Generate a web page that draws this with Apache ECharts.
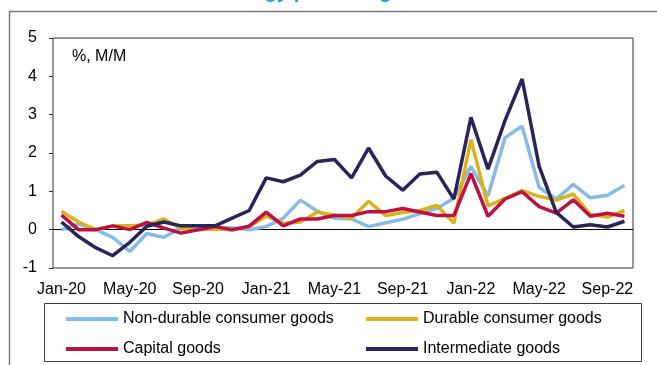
<!DOCTYPE html>
<html>
<head>
<meta charset="utf-8">
<script src="https://cdn.jsdelivr.net/npm/echarts@6/dist/echarts.min.js"></script>
<style>
html,body{margin:0;padding:0;background:#fff;}
#c{width:657px;height:365px;}
</style>
</head>
<body>
<div id="c"></div>
<script>
var months = ['Jan-20','Feb-20','Mar-20','Apr-20','May-20','Jun-20','Jul-20','Aug-20','Sep-20','Oct-20','Nov-20','Dec-20',
  'Jan-21','Feb-21','Mar-21','Apr-21','May-21','Jun-21','Jul-21','Aug-21','Sep-21','Oct-21','Nov-21','Dec-21',
  'Jan-22','Feb-22','Mar-22','Apr-22','May-22','Jun-22','Jul-22','Aug-22','Sep-22','Oct-22'];
var nonDurable = [0.0, 0.15, 0.0, -0.2, -0.57, -0.1, -0.2, 0.05, 0.05, 0.05, 0.05, 0.0, 0.08, 0.3, 0.77, 0.48, 0.3, 0.28, 0.08, 0.18, 0.27, 0.42, 0.55, 0.82, 1.65, 0.88, 2.4, 2.7, 1.1, 0.8, 1.18, 0.83, 0.9, 1.15];
var durable = [0.48, 0.2, 0.0, 0.1, 0.1, 0.12, 0.28, 0.03, 0.0, 0.02, 0.0, 0.08, 0.35, 0.17, 0.2, 0.46, 0.38, 0.3, 0.74, 0.37, 0.45, 0.5, 0.63, 0.17, 2.35, 0.62, 0.82, 1.02, 0.87, 0.77, 0.93, 0.4, 0.33, 0.5];
var capital = [0.38, 0.0, 0.0, 0.1, 0.0, 0.19, 0.04, -0.09, 0.0, 0.08, 0.0, 0.09, 0.46, 0.1, 0.28, 0.28, 0.37, 0.37, 0.47, 0.47, 0.55, 0.46, 0.37, 0.37, 1.46, 0.35, 0.8, 0.99, 0.6, 0.43, 0.78, 0.35, 0.43, 0.35];
var intermediate = [0.2, -0.18, -0.47, -0.68, -0.33, 0.09, 0.2, 0.1, 0.1, 0.1, 0.3, 0.5, 1.35, 1.25, 1.42, 1.78, 1.83, 1.35, 2.13, 1.4, 1.03, 1.45, 1.5, 0.8, 2.93, 1.58, 2.85, 3.93, 1.65, 0.45, 0.07, 0.13, 0.07, 0.22];
var seriesNames = ['Non-durable consumer goods','Durable consumer goods','Capital goods','Intermediate goods'];
var colors = ['#86bbe8','#d9b21c','#be1045','#29255a'];
var yTicks = [-1,0,1,2,3,4,5];

var FONT = 'Liberation Sans, Arial, sans-serif';
var chart = echarts.init(document.getElementById('c'), null, {renderer:'canvas'});
var values = [nonDurable, durable, capital, intermediate];
chart.setOption({
  animation:false,
  backgroundColor:'#ffffff',
  grid:{left:53, top:38, width:580, height:230, show:true, borderColor:'#333333', borderWidth:1, backgroundColor:'transparent', containLabel:false},
  xAxis:{
    type:'category', data:months, boundaryGap:true,
    axisLine:{show:true, onZero:true, lineStyle:{color:'#000000', width:1}},
    axisTick:{show:false},
    axisLabel:{interval:3, color:'#000000', fontFamily:FONT, fontSize:16, margin:14},
    splitLine:{show:false}
  },
  yAxis:{
    type:'value', min:yTicks[0], max:yTicks[yTicks.length-1], interval:1,
    axisLine:{show:false},
    axisTick:{show:true, length:4, lineStyle:{color:'#333333'}},
    axisLabel:{color:'#000000', fontFamily:FONT, fontSize:16, margin:16},
    splitLine:{show:false}
  },
  legend:[
    {data:[seriesNames[0], seriesNames[2]], orient:'vertical', left:61, top:306, itemGap:14, itemWidth:52, itemHeight:4, icon:'rect',
     textStyle:{color:'#000000', fontFamily:FONT, fontSize:16}, selectedMode:false},
    {data:[seriesNames[1], seriesNames[3]], orient:'vertical', left:361, top:306, itemGap:14, itemWidth:52, itemHeight:4, icon:'rect',
     textStyle:{color:'#000000', fontFamily:FONT, fontSize:16}, selectedMode:false}
  ],
  graphic:[
    {type:'rect', left:7, top:9, shape:{x:0,y:0,width:700,height:400}, style:{fill:'none', stroke:'#7a7a7a', lineWidth:1.5}, silent:true},
    {type:'rect', shape:{x:44.5,y:303.5,width:597,height:58}, style:{fill:'none', stroke:'#404040', lineWidth:1}, silent:true},
    {type:'text', style:{x:72, y:57, text:'%, M/M', font:'16px ' + FONT, fill:'#000000', verticalAlign:'middle', align:'left'}, silent:true},
    {type:'text', style:{x:177, y:-8, text:'Non-energy producing industries', font:'bold 20px ' + FONT, fill:'#1aa0e6', verticalAlign:'middle', align:'left'}, silent:true}
  ],
  series: seriesNames.map(function(n,i){
    return {name:n, type:'line', data:values[i], symbol:'none', showSymbol:false,
      lineStyle:{color:colors[i], width:3.5}, itemStyle:{color:colors[i]}, z:2+i};
  })
});
</script>
</body>
</html>
